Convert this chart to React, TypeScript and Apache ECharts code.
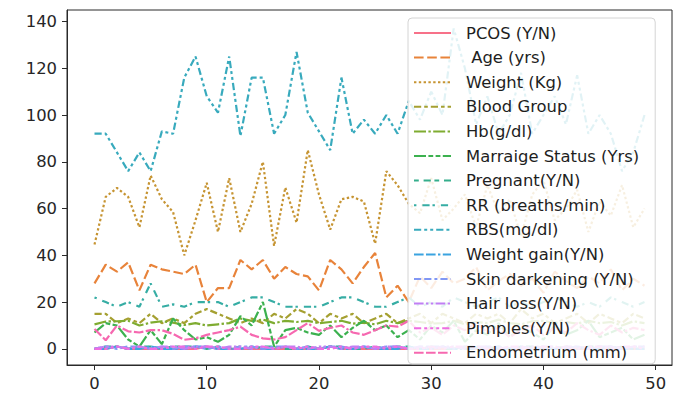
import React, { useEffect, useRef } from "react";
import * as echarts from "echarts";

const seriesNames = [
  "PCOS (Y/N)",
  " Age (yrs)",
  "Weight (Kg)",
  "Blood Group",
  "Hb(g/dl)",
  "Marraige Status (Yrs)",
  "Pregnant(Y/N)",
  "RR (breaths/min)",
  "RBS(mg/dl)",
  "Weight gain(Y/N)",
  "Skin darkening (Y/N)",
  "Hair loss(Y/N)",
  "Pimples(Y/N)",
  "Endometrium (mm)",
];

const pcos = [0,0,1,0,0,0,0,0,0,0,1,0,0,0,0,0,0,0,0,0,0,1,0,0,0,0,0,0,0,0,0,0,0,1,0,0,0,0,0,0,0,0,1,0,0,0,0,0,0,0];
const age = [28,36,33,37,25,36,34,33,32,36,20,26,26,38,34,38,30,35,32,31,25,38,34,28,35,41,22,27,20,31,26,33,28,30,35,25,29,32,27,30,24,33,29,26,31,28,34,25,30,27];
const weight = [44.6,65,68.8,65,52,74.1,64,58.5,40,55,71,50,73,50,62,80,44,69,54,85,66,51,64,65,63,45,76,70,62,58,73,55,60,66,52,70,58,64,48,66,72,55,60,68,50,63,57,70,52,60];
const bloodGroup = [15,15,11,13,11,15,11,13,11,15,17,15,13,11,13,11,15,13,17,15,11,15,13,15,11,13,15,11,13,15,11,15,13,11,15,13,15,11,17,13,15,11,13,15,11,15,13,11,15,13];
const hb = [10.5,11.7,11.8,12,10,11.2,11.8,11.2,10.2,11,10,10.5,11,13,12,12.5,11,12,11.5,12,11,11.5,12,10.8,11.2,10.5,12,11,12,11.5,10.8,11,12,10.5,11.5,11,12.5,11,10.5,11.8,12,11,11.5,10.8,12,11,11.5,10,11.8,11];
const marriage = [7,11,10,4,1,8,2,13,8,4,5,3,6,14,10,20,1,8,9,7,6,10,5,9,12,8,10,5,8,4,10,7,12,3,8,6,11,5,9,7,4,10,6,8,12,5,7,9,4,6];
const pregnant = [0,1,1,0,1,1,0,1,1,1,0,1,0,1,0,1,1,0,0,1,0,1,1,0,0,1,0,1,1,0,1,0,0,1,1,0,1,0,1,1,0,0,1,0,1,1,0,1,0,0];
const rr = [22,20,18,20,18,28,18,19,18,20,20,20,18,20,22,22,20,18,18,18,18,20,22,22,20,18,18,20,22,18,20,18,22,20,18,20,22,18,20,18,20,22,20,18,20,18,22,20,18,20];
const rbs = [92,92,84,76,84,76,93,92,116,125,108,101,125,91,116,116,92,100,127,101,93,85,116,92,98,92,100,92,106,98,110,100,137,120,96,108,92,100,118,92,100,108,96,117,92,100,92,76,84,100];
const weightGain = [0,0,1,0,0,1,0,0,0,1,1,0,0,0,1,0,0,1,0,0,0,1,0,0,1,0,0,0,1,0,0,1,0,0,0,1,0,0,1,0,0,0,0,1,0,0,1,0,0,0];
const skinDarkening = [0,1,0,1,1,0,1,0,1,1,0,1,0,1,1,0,1,1,0,1,0,1,1,0,1,0,1,1,0,1,1,1,0,1,0,1,1,0,1,0,1,1,0,1,0,1,1,0,1,1];
const hairLoss = [0,1,1,0,1,0,1,1,0,1,1,0,1,1,0,1,0,1,1,0,1,1,0,1,1,0,1,1,0,1,0,1,1,0,1,1,0,1,0,1,1,0,1,1,0,1,1,0,1,1];
const pimples = [0,0,1,0,1,0,0,1,1,0,1,1,0,0,1,1,0,1,0,1,0,0,1,0,1,1,0,1,0,0,1,0,1,1,1,0,0,1,1,0,1,1,0,0,1,1,0,1,1,0];
const endometrium = [8.5,3.7,10,7.5,7,8,8,6.4,3.9,4.5,6,7,8,9.5,6,4.5,4,5,8,11,7.7,9,10,7,6,8,10,9.5,12,7,9,6,10,8,11,7,9,5,8,10,6,9,7,11,8,6,10,7,9,8];

const seriesValues = [pcos, age, weight, bloodGroup, hb, marriage, pregnant, rr, rbs, weightGain, skinDarkening, hairLoss, pimples, endometrium];

const xTicks = [0, 10, 20, 30, 40, 50];
const yTicks = [0, 20, 40, 60, 80, 100, 120, 140];

const colors = ["#f77189", "#e8833a", "#c69432", "#a5a031", "#7fac31", "#3cb14f", "#35ae8c", "#36ada4", "#38aabd", "#3ba3e0", "#8197f4", "#c07ff4", "#ee6de1", "#f668b0"];

const dashSpecs: number[][] = [
  [],
  [4, 1.5],
  [1, 1],
  [3, 1.25, 1.5, 1.25],
  [5, 1, 1, 1],
  [5, 1, 2, 1, 2, 1],
  [2, 2, 3, 1.5],
  [1, 2.5, 3, 1.2],
  [3, 1.25, 1.25, 1.25, 1.25, 1.25],
  [4, 1, 4, 1, 1, 1],
  [3, 1.25, 3, 1.25, 1.25, 1.25],
  [4, 1, 1, 1, 1, 1],
  [3, 1.25, 1.25, 1.25, 1.25, 1.25, 1.25, 1.25],
  [4, 1, 4, 1, 4, 1, 1, 1],
];

const FONT = "DejaVu Sans";

export default function App() {
  const ref = useRef<HTMLDivElement>(null);
  useEffect(() => {
    if (!ref.current) return;
    const chart = echarts.init(ref.current, null, { renderer: "svg" });
    const dashScale = 2.4;
    const series = seriesNames.map((name, k) => ({
      name,
      type: "line",
      data: seriesValues[k].map((v, i) => [i, v]),
      showSymbol: false,
      symbol: "none",
      lineStyle: {
        color: colors[k],
        width: 2.2,
        type: dashSpecs[k].length ? dashSpecs[k].map((d) => d * dashScale) : "solid",
      },
      itemStyle: { color: colors[k] },
    }));
    chart.setOption({
      animation: false,
      grid: {
        left: 67,
        right: 8,
        top: 10,
        bottom: 29,
        show: true,
        borderColor: "#2a2a2a",
        borderWidth: 1,
        containLabel: false,
      },
      xAxis: {
        type: "value",
        min: -2.45,
        max: 51.45,
        axisLine: { onZero: false, lineStyle: { color: "#2a2a2a" } },
        axisTick: { show: true, length: 5, customValues: xTicks, lineStyle: { color: "#2a2a2a" } },
        axisLabel: { customValues: xTicks, margin: 10, fontFamily: FONT, fontSize: 16.4, color: "#262626" },
        splitLine: { show: false },
      },
      yAxis: {
        type: "value",
        min: -6.9,
        max: 144.9,
        axisLine: { show: true, onZero: false, lineStyle: { color: "#2a2a2a" } },
        axisTick: { show: true, length: 5, customValues: yTicks, lineStyle: { color: "#2a2a2a" } },
        axisLabel: { customValues: yTicks, margin: 10, fontFamily: FONT, fontSize: 16.4, color: "#262626" },
        splitLine: { show: false },
      },
      legend: {
        orient: "vertical",
        left: 408,
        top: 18,
        padding: [6, 16, 2, 5],
        itemWidth: 37,
        itemHeight: 14,
        itemGap: 6.6,
        backgroundColor: "rgba(255,255,255,0.85)",
        borderColor: "#d4d4d4",
        borderWidth: 1,
        borderRadius: 4,
        itemStyle: { opacity: 0, borderWidth: 0 },
        textStyle: { fontFamily: FONT, fontSize: 16.4, color: "#1e1e1e", lineHeight: 18, padding: [0, 0, 0, 10] },
        data: seriesNames,
      },
      series,
    });
    return () => chart.dispose();
  }, []);
  return <div ref={ref} style={{ position: "fixed", left: 0, top: 0, width: 680, height: 394, background: "#fff" }} />;
}
